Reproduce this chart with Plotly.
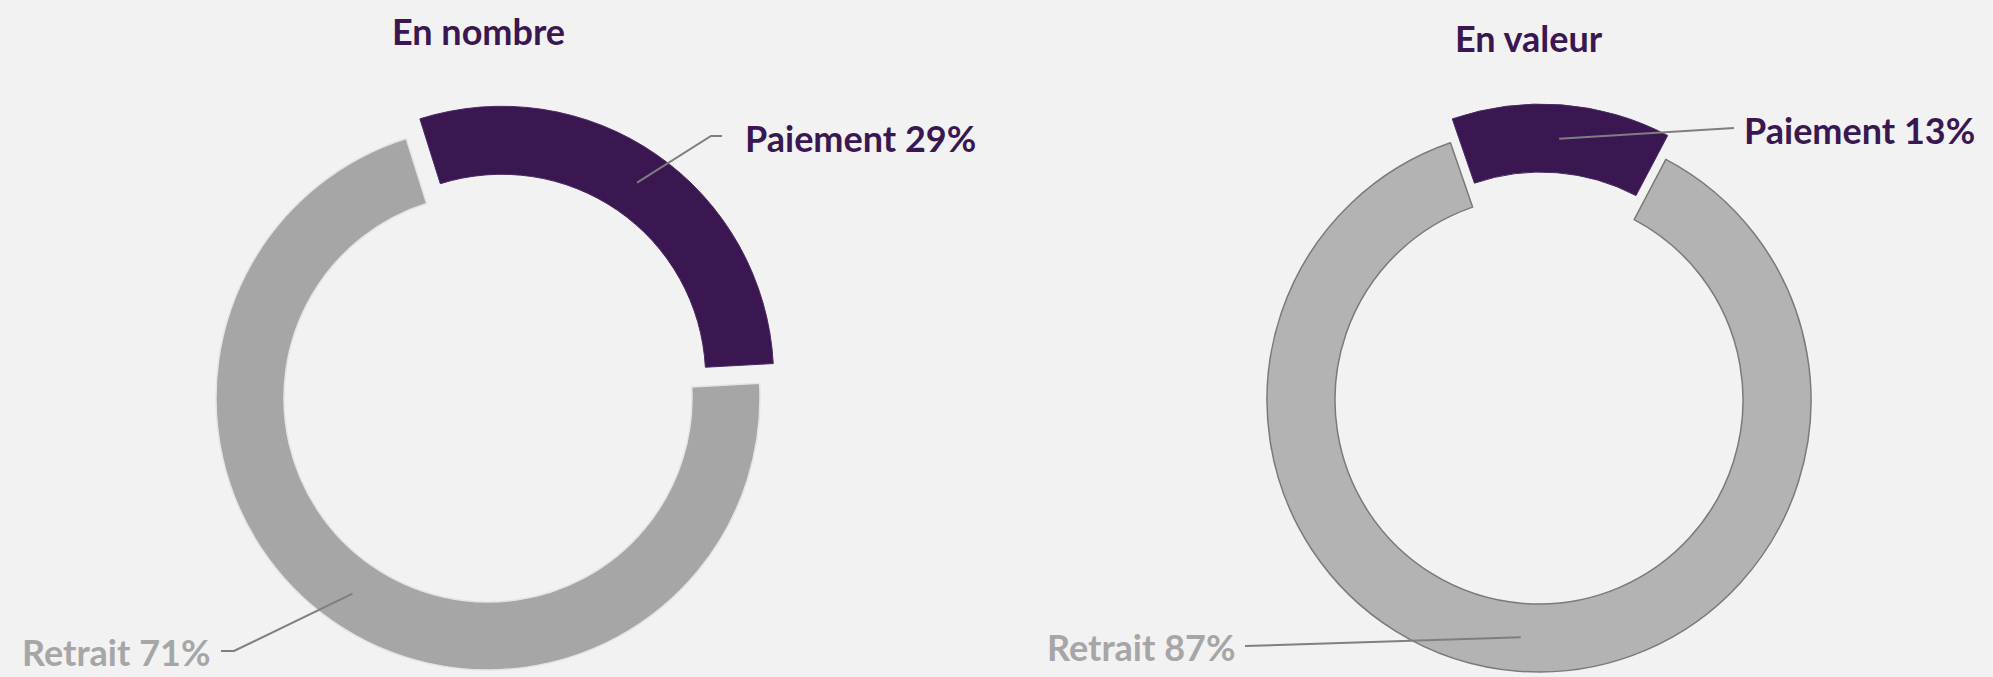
import math
import plotly.graph_objects as go

W, H = 1993, 677

labels = ["Paiement", "Retrait"]
en_nombre = [29, 71]
en_valeur = [13, 87]
titles = ["En nombre", "En valeur"]

PURPLE = "#3a1751"
BG = "#f2f2f2"
LINE = "#7f7f7f"
FONT = "Lato"
CLEAR = "rgba(0,0,0,0)"

R = 272          # outer radius in px
HOLE = 0.75
PULL_PX = 24     # how far the purple slice is pulled out


def domain(cx, cy, r=R):
    return dict(x=[(cx - r) / W, (cx + r) / W],
                y=[1 - (cy + r) / H, 1 - (cy - r) / H])


def mid_angle(values, i, rotation):
    total = sum(values)
    start = rotation + 360 * sum(values[:i]) / total
    return start + 180 * values[i] / total


def polar(cx, cy, r, ang):
    a = math.radians(ang)
    return cx + r * math.sin(a), cy - r * math.cos(a)


def to_paper(pts):
    return [(x / W, 1 - y / H) for x, y in pts]


def path(pts):
    pts = to_paper(pts)
    return "M " + " L ".join("%.5f,%.5f" % p for p in pts)


def draw_donut(fig, values, cx, cy, rotation, grey, edge):
    common = dict(labels=labels, values=values, hole=HOLE, sort=False,
                  direction="clockwise", rotation=rotation, textinfo="none",
                  hoverinfo="label+percent", showlegend=False)
    fig.add_trace(go.Pie(
        domain=domain(cx, cy),
        marker=dict(colors=[CLEAR, grey],
                    line=dict(color=[CLEAR, edge], width=[0, 1.5])),
        **common))
    m = mid_angle(values, 0, rotation)
    sx, sy = polar(0, 0, PULL_PX, m)
    fig.add_trace(go.Pie(
        domain=domain(cx + sx, cy + sy),
        marker=dict(colors=[PURPLE, CLEAR],
                    line=dict(color=["#4a2a63", CLEAR], width=[1, 0])),
        **common))
    return fig


def draw_labels(fig, values, cx, cy, rotation, grey, pay_pts, ret_pts,
                pay_xy, ret_xy):
    r_mid = R * (1 + HOLE) / 2
    m0 = mid_angle(values, 0, rotation)
    m1 = mid_angle(values, 1, rotation)
    start0 = polar(cx, cy, r_mid + PULL_PX, m0)
    start1 = polar(cx, cy, r_mid, m1)
    for pts in ([start0] + pay_pts, [start1] + ret_pts):
        fig.add_shape(type="path", xref="paper", yref="paper", path=path(pts),
                      line=dict(color=LINE, width=2))
    texts = ["%s %d%%" % (labels[0], values[0]), "%s %d%%" % (labels[1], values[1])]
    (px, py), (rx, ry) = to_paper([pay_xy, ret_xy])
    fig.add_annotation(x=px, y=py, xref="paper", yref="paper", text=texts[0],
                       xanchor="left", yanchor="middle", showarrow=False,
                       font=dict(family=FONT, size=36, color=PURPLE, weight="bold"))
    fig.add_annotation(x=rx, y=ry, xref="paper", yref="paper", text=texts[1],
                       xanchor="right", yanchor="middle", showarrow=False,
                       font=dict(family=FONT, size=36, color=grey, weight="bold"))
    return fig


def draw_title(fig, text, x, y):
    (tx, ty), = to_paper([(x, y)])
    fig.add_annotation(x=tx, y=ty, xref="paper", yref="paper", text=text,
                       xanchor="center", yanchor="middle", showarrow=False,
                       font=dict(family=FONT, size=36, color=PURPLE, weight="bold"))
    return fig


fig = go.Figure()

# left: En nombre
draw_donut(fig, en_nombre, 488, 398, -17.5, "#a6a6a6", "#e4e4e4")
draw_labels(fig, en_nombre, 488, 398, -17.5, "#a6a6a6",
            [(711, 136), (722, 136)], [(234, 651), (221, 651)],
            (743, 138), (212, 652))
draw_title(fig, titles[0], 478, 31)

# right: En valeur
draw_donut(fig, en_valeur, 1539, 400, -19, "#b3b3b3", "#7a7a7a")
draw_labels(fig, en_valeur, 1539, 400, -19, "#a6a6a6",
            [(1734, 128)], [(1245, 646)],
            (1742, 130), (1237, 647))
draw_title(fig, titles[1], 1529, 38)

fig.update_layout(
    width=W, height=H,
    margin=dict(l=0, r=0, t=0, b=0),
    paper_bgcolor=BG, plot_bgcolor=BG,
    font=dict(family=FONT),
)

# drop the default page margin so the figure fills the window
fig.write_html("out.html", config={"displayModeBar": False},
               post_script="document.body.style.margin='0';"
                           "document.body.style.overflow='hidden';")
